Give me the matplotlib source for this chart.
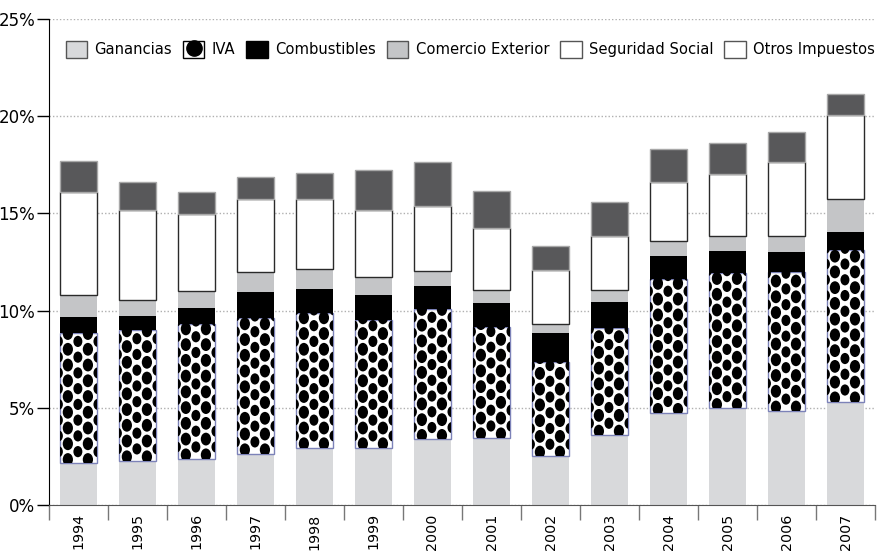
import numpy as np
import matplotlib.pyplot as plt
from matplotlib.patches import Patch
from matplotlib.lines import Line2D
from matplotlib.path import Path
from matplotlib.transforms import Affine2D
from matplotlib.legend_handler import HandlerTuple

years = ["1994", "1995", "1996", "1997", "1998", "1999", "2000",
         "2001", "2002", "2003", "2004", "2005", "2006", "2007"]
ganancias = [2.14, 2.28, 2.38, 2.64, 2.95, 2.95, 3.38, 3.46, 2.52, 3.60, 4.72, 4.97, 4.84, 5.31]
iva = [6.72, 6.72, 6.93, 6.96, 6.91, 6.57, 6.69, 5.69, 4.84, 5.52, 6.91, 6.95, 7.13, 7.79]
combustibles = [0.83, 0.74, 0.84, 1.37, 1.27, 1.28, 1.21, 1.26, 1.47, 1.32, 1.20, 1.15, 1.04, 0.95]
comercio = [1.11, 0.81, 0.87, 1.02, 0.99, 0.91, 0.76, 0.65, 0.47, 0.62, 0.77, 0.78, 0.84, 1.68]
seguridad = [5.30, 4.65, 3.93, 3.75, 3.62, 3.46, 3.36, 3.21, 2.79, 2.79, 3.00, 3.19, 3.78, 4.32]
otros = [1.57, 1.43, 1.13, 1.12, 1.34, 2.06, 2.23, 1.90, 1.23, 1.72, 1.70, 1.60, 1.57, 1.09]

fig = plt.figure(figsize=(8.79, 5.51), dpi=100)
ax = fig.add_axes([0.0557, 0.0835, 0.9398, 0.882])

x = np.arange(len(years))
w = 0.64
bottom = np.zeros(len(years))

ax.bar(x, ganancias, w, bottom=bottom, color="#d8d9db", zorder=2)
bottom += ganancias
iva_bars = ax.bar(x, iva, w, bottom=bottom, color="white", edgecolor="#7c82b8", lw=1, zorder=2)

# polka-dot texture for IVA, clipped to each bar
ell = Path.unit_circle().transformed(Affine2D().scale(0.8, 1.0))
for i, rect in enumerate(iva_bars):
    b = bottom[i]
    t = b + iva[i]
    rows = np.arange(b + 0.2, t + 0.8, 0.405)
    xs, ys, ss = [], [], []
    for k, yy in enumerate(rows):
        if k % 2 == 0:
            for dx in (-0.18, 0.16):
                xs.append(x[i] + dx); ys.append(yy); ss.append(85)
        else:
            for dx in (-0.34, -0.01, 0.33):
                xs.append(x[i] + dx); ys.append(yy); ss.append(65)
    sc = ax.scatter(xs, ys, s=ss, marker=ell, color="black", lw=0, zorder=3)
    sc.set_clip_path(rect)
bottom += iva

ax.bar(x, combustibles, w, bottom=bottom, color="black", zorder=2)
bottom += combustibles
ax.bar(x, comercio, w, bottom=bottom, color="#c4c5c7", zorder=2)
bottom += comercio
ax.bar(x, seguridad, w, bottom=bottom, color="white", edgecolor="#2a2a2a", lw=1, zorder=2)
bottom += seguridad
ax.bar(x, otros, w, bottom=bottom, color="#58585a", edgecolor="#a8a8a8", lw=1, zorder=2)

ax.set_xlim(-0.5, len(years) - 0.5)
ax.set_ylim(0, 25)
ax.set_yticks([0, 5, 10, 15, 20, 25])
ax.set_yticklabels([f"{v}%" for v in [0, 5, 10, 15, 20, 25]], fontsize=12)
ax.yaxis.grid(True, linestyle=(0, (1, 1.5)), color="#b0b0b0", lw=1, zorder=0)
ax.tick_params(axis="y", length=9, width=1, pad=1, color="black")

ax.set_xticks(x)
ax.set_xticklabels(years, rotation=90, fontsize=10.3)
ax.tick_params(axis="x", which="major", length=0, pad=6)
ax.set_xticks(np.arange(-0.5, len(years), 1.0), minor=True)
ax.tick_params(axis="x", which="minor", length=11, width=1, color="#777777")

for s in ["top", "right"]:
    ax.spines[s].set_visible(False)
ax.spines["left"].set_color("black")
ax.spines["bottom"].set_color("#555555")

handles = [
    Patch(facecolor="#d8d9db", edgecolor="#555555"),
    (Patch(facecolor="white", edgecolor="black"),
     Line2D([], [], marker="o", color="black", ls="none", markersize=11)),
    Patch(facecolor="black", edgecolor="black"),
    Patch(facecolor="#c4c5c7", edgecolor="#555555"),
    Patch(facecolor="white", edgecolor="#555555"),
    Patch(facecolor="white", edgecolor="#555555"),
]
labels = ["Ganancias", "IVA", "Combustibles", "Comercio Exterior",
          "Seguridad Social", "Otros Impuestos"]
ax.legend(handles, labels, ncol=6, loc="upper right", bbox_to_anchor=(1.0, 0.955),
          frameon=False, fontsize=10.6, handlelength=1.45, handleheight=1.45,
          handletextpad=0.5, columnspacing=0.75, borderaxespad=0.0, borderpad=0.0,
          handler_map={tuple: HandlerTuple(ndivide=1)})

fig.savefig("out.png", dpi=100)
